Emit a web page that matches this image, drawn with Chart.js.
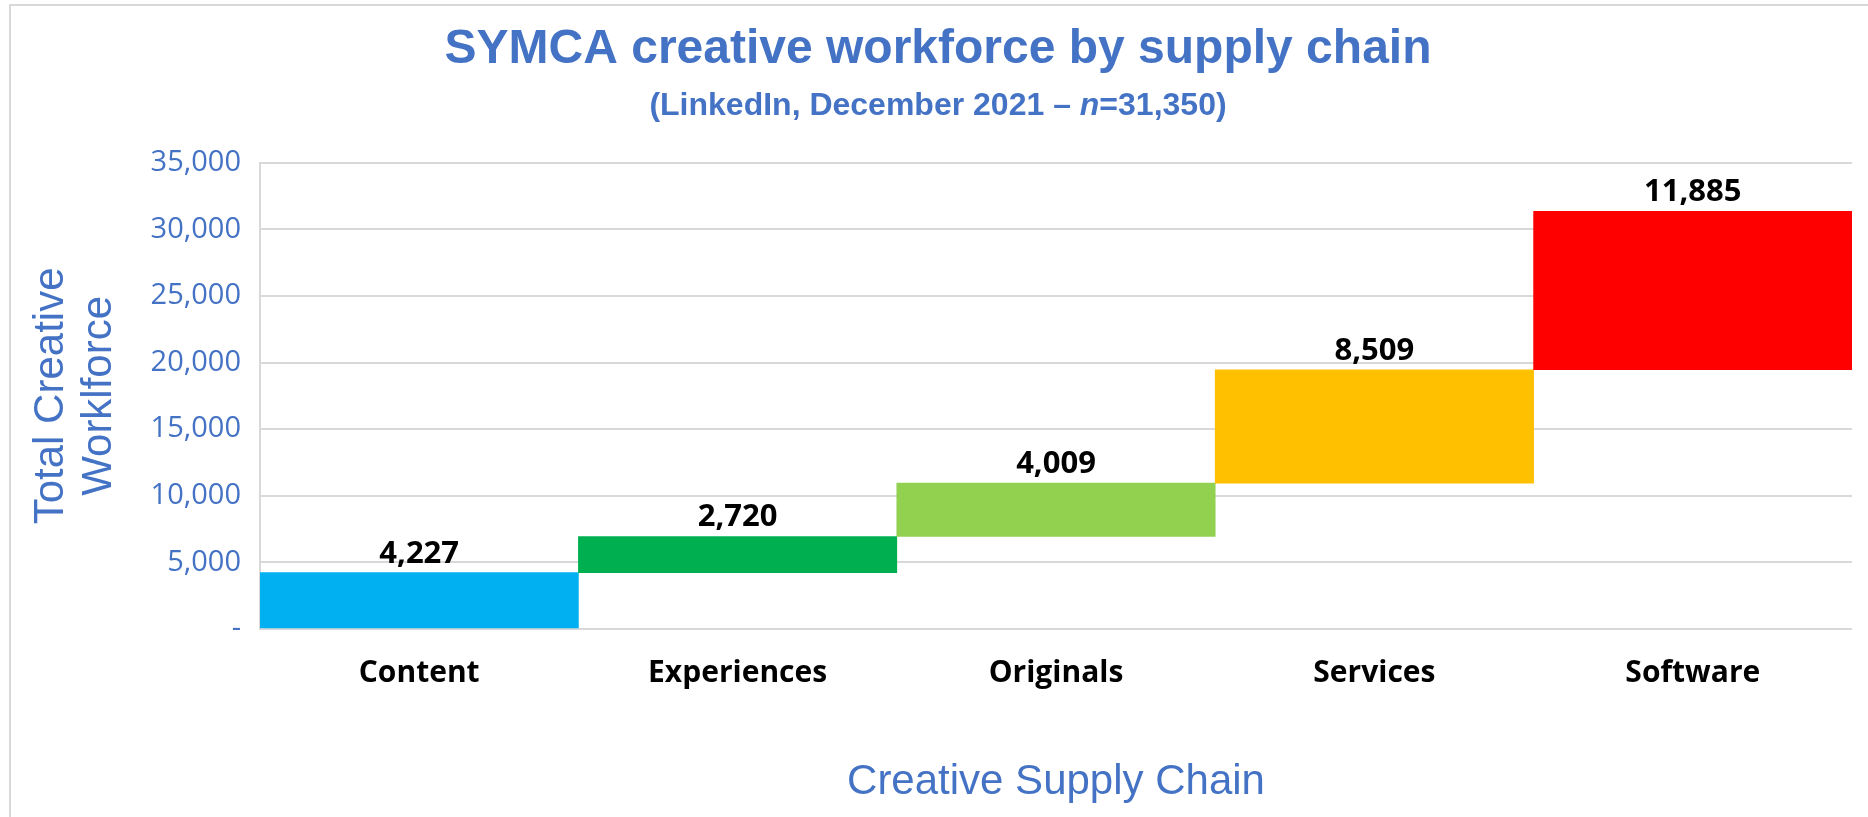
<!DOCTYPE html>
<html>
<head>
<meta charset="utf-8">
<title>SYMCA creative workforce by supply chain</title>
<script src="https://cdn.jsdelivr.net/npm/chart.js@4.4.1/dist/chart.umd.min.js"></script>
<style>
  html, body { margin: 0; padding: 0; background: #fff; }
  body { width: 1868px; height: 817px; overflow: hidden; position: relative; }
  .frame {
    position: absolute; left: 9px; top: 4px; right: 0; bottom: -10px;
    border-top: 2px solid #d9d9d9; border-left: 2px solid #d9d9d9;
    pointer-events: none;
  }
  .wrap { position: absolute; left: 0; top: 0; width: 1868px; height: 817px; }
</style>
</head>
<body>
<div class="frame"></div>
<div class="wrap"><canvas id="chart"></canvas></div>
<script>
(function () {
  'use strict';

  // Chart data
  var categories = ['Content', 'Experiences', 'Originals', 'Services', 'Software'];
  var workforce = [4227, 2720, 4009, 8509, 11885];
  var barColors = ['#00B0F0', '#00B050', '#92D050', '#FFC000', '#FF0000'];
  var yTicks = [0, 5000, 10000, 15000, 20000, 25000, 30000, 35000];

  var BLUE = '#4472C4';
  var TITLE_FONT = '"Liberation Sans", Arial, sans-serif';
  var SUBTITLE = '(LinkedIn, December 2021 \u2013 n=31,350)';
  // subtitle pieces, the "n" is set in italic
  var subParts = [
    { text: '(LinkedIn, December 2021 \u2013 ', italic: false },
    { text: 'n', italic: true },
    { text: '=31,350)', italic: false }
  ];

  // Waterfall: each bar floats from the running total
  var floating = [];
  var running = 0;
  workforce.forEach(function (v) {
    floating.push([running, running + v]);
    running += v;
  });

  function fmt(n) {
    return n.toLocaleString('en-US');
  }

  // Value labels above each bar
  var barLabels = {
    id: 'barLabels',
    afterDatasetsDraw: function (chart) {
      var ctx = chart.ctx;
      var meta = chart.getDatasetMeta(0);
      ctx.save();
      ctx.font = 'bold 31px "Open Sans"';
      ctx.fillStyle = '#000';
      ctx.textAlign = 'center';
      ctx.textBaseline = 'middle';
      meta.data.forEach(function (bar, i) {
        ctx.fillText(fmt(workforce[i]), bar.x, bar.y - 19);
      });
      ctx.restore();
    }
  };

  // Subtitle with mixed italic, drawn where the (invisible) subtitle box sits
  var mixedSubtitle = {
    id: 'mixedSubtitle',
    afterDraw: function (chart) {
      var box = null;
      chart.boxes.forEach(function (b) {
        if (b !== chart.titleBlock && b.options && b.options.text === SUBTITLE) box = b;
      });
      if (!box) return;
      var size = 32;
      var ctx = chart.ctx;
      ctx.save();
      ctx.fillStyle = BLUE;
      ctx.textBaseline = 'middle';
      ctx.textAlign = 'left';
      var total = 0;
      subParts.forEach(function (p) {
        ctx.font = (p.italic ? 'italic ' : '') + 'bold ' + size + 'px ' + TITLE_FONT;
        p.w = ctx.measureText(p.text).width;
        total += p.w;
      });
      var x = (box.left + box.right) / 2 - total / 2;
      var y = box.top + box.options.padding.top + size * 1.2 / 2;
      subParts.forEach(function (p) {
        ctx.font = (p.italic ? 'italic ' : '') + 'bold ' + size + 'px ' + TITLE_FONT;
        ctx.fillText(p.text, x, y);
        x += p.w;
      });
      ctx.restore();
    }
  };

  new Chart(document.getElementById('chart').getContext('2d'), {
    type: 'bar',
    data: {
      labels: categories,
      datasets: [{
        data: floating,
        backgroundColor: barColors,
        borderWidth: 0,
        barPercentage: 1,
        categoryPercentage: 1
      }]
    },
    options: {
      responsive: true,
      maintainAspectRatio: false,
      animation: false,
      layout: { padding: { top: 0, left: 24, right: 16, bottom: 0 } },
      plugins: {
        legend: { display: false },
        tooltip: { enabled: false },
        title: {
          display: true,
          text: 'SYMCA creative workforce by supply chain',
          color: BLUE,
          font: { family: TITLE_FONT, size: 48, weight: 'bold', lineHeight: 1.2 },
          padding: { top: 21, bottom: 8 }
        },
        subtitle: {
          display: true,
          text: SUBTITLE,
          color: 'rgba(0,0,0,0)',
          font: { family: TITLE_FONT, size: 31, weight: 'bold', lineHeight: 1.2 },
          padding: { top: 0, bottom: 39 }
        }
      },
      scales: {
        x: {
          grid: { display: false, drawTicks: false },
          border: { display: false },
          ticks: {
            color: '#000',
            padding: 26,
            font: { family: '"Open Sans", sans-serif', size: 30, weight: 'bold', lineHeight: 1.2 }
          },
          title: {
            display: true,
            text: 'Creative Supply Chain',
            color: BLUE,
            font: { family: TITLE_FONT, size: 42, lineHeight: 1.2 },
            padding: { top: 0, bottom: 9 }
          },
          afterFit: function (scale) { scale.height = 817 - 629; }
        },
        y: {
          min: 0,
          max: 35000,
          afterBuildTicks: function (scale) {
            scale.ticks = yTicks.map(function (v) { return { value: v }; });
          },
          grid: { color: '#d9d9d9', lineWidth: 2, drawTicks: false },
          border: { display: true, color: '#d9d9d9', width: 2 },
          ticks: {
            color: BLUE,
            padding: 19,
            font: { family: '"Open Sans", sans-serif', size: 29, lineHeight: 1.2 },
            callback: function (v) { return v === 0 ? '-' : fmt(v); }
          },
          title: {
            display: true,
            text: ['Total Creative', 'Worklforce'],
            color: BLUE,
            font: { family: TITLE_FONT, size: 42, lineHeight: 1.15 },
            padding: { top: 3, bottom: 0 }
          },
          afterFit: function (scale) { scale.width = 236; }
        }
      }
    },
    plugins: [barLabels, mixedSubtitle]
  });
})();
</script>
</body>
</html>
